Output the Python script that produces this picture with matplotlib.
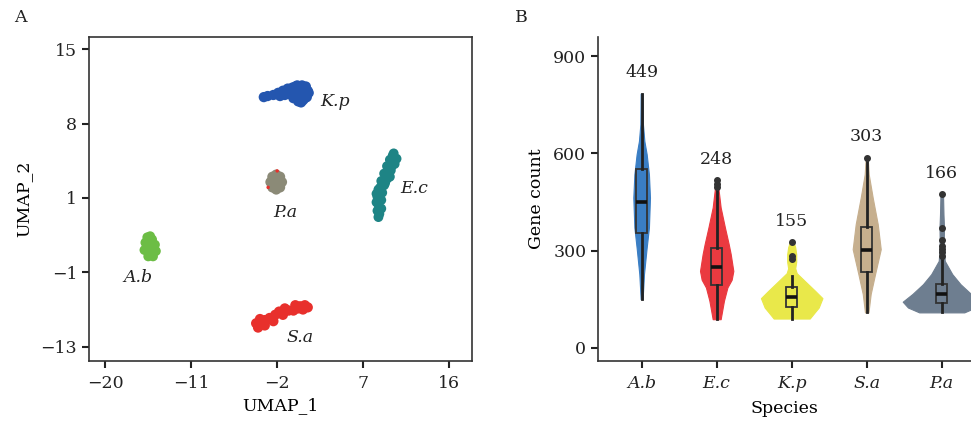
import numpy as np
import matplotlib
matplotlib.use("Agg")
import matplotlib.pyplot as plt

plt.rcParams['font.family'] = ['DejaVu Serif']
plt.rcParams['font.size'] = 12.5

#--------------------------- data ---------------------------------

# UMAP clusters (UMAP_1, UMAP_2)
kp_x = [-3.4, -3.0, -2.4, -1.9, -1.4, -0.9, -1.2, -0.4, 0.1, 0.6, 1.0, 1.2, 1.1, 0.7, 0.2, -0.3, -0.7, 0.0, 0.4, -0.2,
        -1.7, 0.8, 1.3, 0.5, -0.5, 0.3, 0.9, -0.1, 0.5, -1.0, 0.9]
kp_y = [10.5, 10.6, 10.7, 10.9, 11.1, 11.3, 10.7, 11.4, 11.6, 11.6, 11.5, 11.1, 10.5, 10.2, 10.1, 10.4, 10.8, 10.9, 11.3, 11.1,
        10.6, 10.8, 10.9, 10.0, 11.0, 10.5, 11.2, 11.5, 11.0, 11.0, 10.4]
pa_x = [-2.1, -2.7, -1.5, -2.1, -2.1, -2.5, -1.7, -2.5, -1.7, -2.4, -1.8, -2.3, -1.9]
pa_y = [2.5, 2.5, 2.5, 3.2, 1.8, 3.0, 3.0, 2.0, 2.0, 2.8, 2.2, 2.3, 2.7]
pa_red_x = [-2.0, -2.95]
pa_red_y = [3.55, 2.0]
ec_x = [10.1, 10.3, 9.8, 10.0, 9.5, 9.7, 9.2, 9.5, 8.9, 9.2, 8.6, 9.0, 8.5, 8.9, 8.6, 8.9, 8.5, 8.7, 8.6, 9.6, 8.8, 10.2,
        10.5, 10.3, 9.9, 9.8, 9.3, 8.4, 8.4]
ec_y = [5.0, 4.6, 4.6, 4.0, 4.0, 3.4, 3.3, 2.8, 2.6, 2.2, 1.8, 1.5, 1.1, 0.8, 0.4, 0.0, -0.2, -0.5, -0.8, 3.0, 2.0, 5.2,
        4.7, 4.2, 3.6, 3.0, 2.4, 1.4, 0.6]
ab_x = [-15.4, -15.6, -15.1, -15.8, -14.8, -15.9, -14.7, -15.5, -15.0, -15.4, -15.5, -15.3, -15.0]
ab_y = [-3.6, -2.7, -2.9, -3.2, -3.4, -3.9, -4.0, -4.5, -4.5, -4.2, -3.0, -2.6, -3.9]
sa_x = [-4.2, -4.0, -3.3, -3.3, -2.2, -2.4, -1.2, -1.4, -0.1, -0.3, 0.9, 0.7, 1.2, -3.8, -2.8, -1.8, 0.4, -0.8, 0.2]
sa_y = [-10.8, -11.2, -10.5, -11.0, -10.0, -10.6, -9.4, -10.0, -9.1, -9.6, -9.1, -9.5, -9.3, -10.4, -10.3, -9.7, -9.2, -9.6, -9.4]

umap_xticks = [-20, -11, -2, 7, 16]
umap_ytick_pos = [15, 8, 1, -6, -13]
umap_ytick_lab = ['15', '8', '1', '\u22121', '\u221213']

# violin panel
species = ['A.b', 'E.c', 'K.p', 'S.a', 'P.a']
colors = ['#3a7ec4', '#ea3a40', '#e9e84a', '#c6af8e', '#6e7e90']
# violin outlines: gene count levels and half widths
vio_vals = [
    [150, 227, 309, 371, 463, 535, 597, 638, 690, 784],
    [88, 145, 186, 210, 237, 289, 320, 371, 433, 484, 517],
    [90, 110, 124, 153, 176, 207, 230, 245, 265, 289, 310, 325],
    [109, 166, 227, 304, 381, 463, 535, 587],
    [109, 124, 142, 166, 196, 227, 268, 300, 330, 370, 412, 474],
]
vio_hw = [
    [0.013, 0.031, 0.067, 0.097, 0.111, 0.097, 0.067, 0.036, 0.017, 0.013],
    [0.053, 0.097, 0.143, 0.2, 0.222, 0.187, 0.16, 0.11, 0.053, 0.027, 0.013],
    [0.24, 0.31, 0.36, 0.41, 0.31, 0.17, 0.067, 0.047, 0.06, 0.06, 0.047, 0.027],
    [0.023, 0.053, 0.111, 0.187, 0.147, 0.08, 0.027, 0.013],
    [0.3, 0.45, 0.52, 0.39, 0.25, 0.14, 0.04, 0.03, 0.027, 0.03, 0.023, 0.017],
]
whislo = [150, 88, 90, 109, 109]
q1 = [355, 194, 127, 234, 138]
med = [449, 248, 155, 303, 166]
q3 = [553, 309, 186, 374, 196]
whishi = [784, 489, 222, 580, 273]
fliers = [[], [495, 505, 517], [274, 284, 325], [587], [284, 294, 304, 315, 333, 369, 474]]

#--------------------------- figure ---------------------------------

fig = plt.figure(figsize=(9.71, 4.25), dpi=100)
ax1 = fig.add_axes([0.0917, 0.1506, 0.3944, 0.7616])
ax2 = fig.add_axes([0.616, 0.1506, 0.384, 0.7616])

dark = '#333333'
txt = '#222222'

# ---- panel A
ax1.scatter(kp_x, kp_y, s=55, color='#2456af', edgecolors='none')
ax1.scatter(pa_x, pa_y, s=55, color='#8b8a77', edgecolors='none')
ax1.scatter(pa_red_x, pa_red_y, s=6, color='#e8302c', edgecolors='none')
ax1.scatter(ec_x, ec_y, s=50, color='#1e8485', edgecolors='none')
ax1.scatter(ab_x, ab_y, s=50, color='#6cbd45', edgecolors='none')
ax1.scatter(sa_x, sa_y, s=55, color='#e8302c', edgecolors='none')

lab_kw = dict(style='italic', color=txt, ha='center', va='center')
ax1.text(4.1, 10.1, 'K.p', **lab_kw)
ax1.text(-1.1, -0.4, 'P.a', **lab_kw)
ax1.text(12.4, 1.9, 'E.c', **lab_kw)
ax1.text(-16.6, -6.5, 'A.b', **lab_kw)
ax1.text(0.4, -12.1, 'S.a', **lab_kw)

ax1.set_xlim(-21.7, 18.4)
ax1.set_ylim(-14.35, 16.13)
ax1.set_xticks(umap_xticks)
ax1.set_xticklabels([str(v).replace('-', '\u2212') for v in umap_xticks])
ax1.set_yticks(umap_ytick_pos)
ax1.set_yticklabels(umap_ytick_lab)
ax1.set_xlabel('UMAP_1', labelpad=4)
ax1.set_ylabel('UMAP_2', labelpad=6)
for sp in ax1.spines.values():
    sp.set_color(dark)
    sp.set_linewidth(1.2)
ax1.tick_params(length=5, width=1.5, color=txt, labelcolor=txt)
ax1.tick_params(axis='x', pad=5)

# ---- panel B
for i in range(len(species)):
    v = np.array(vio_vals[i])
    w = np.array(vio_hw[i])
    ax2.fill_betweenx(v, i - w, i + w, color=colors[i], lw=0.8, edgecolor=colors[i], zorder=1)

stats = []
for i in range(len(species)):
    stats.append(dict(whislo=whislo[i], q1=q1[i], med=med[i], q3=q3[i],
                      whishi=whishi[i], fliers=fliers[i]))
bp = ax2.bxp(stats, positions=range(len(species)), widths=0.14, patch_artist=True,
             showcaps=False,
             boxprops=dict(edgecolor=dark, linewidth=1.3),
             whiskerprops=dict(color=txt, linewidth=2.0),
             medianprops=dict(color='#111111', linewidth=2.6),
             flierprops=dict(marker='o', markersize=4, markerfacecolor=dark,
                             markeredgecolor=dark))
for patch, c in zip(bp['boxes'], colors):
    patch.set_facecolor(c)
for i in range(len(species)):
    ax2.text(i, max(vio_vals[i]) + 38, str(med[i]), ha='center', va='bottom', color=txt)

ax2.set_xlim(-0.58, 4.39)
ax2.set_ylim(-41, 958)
ax2.set_yticks([0, 300, 600, 900])
ax2.set_xticks(range(len(species)))
ax2.set_xticklabels(species, style='italic')
ax2.set_xlabel('Species', labelpad=6)
ax2.set_ylabel('Gene count', labelpad=6)
ax2.spines['top'].set_visible(False)
ax2.spines['right'].set_visible(False)
for sp in ['left', 'bottom']:
    ax2.spines[sp].set_color(dark)
    ax2.spines[sp].set_linewidth(1.2)
ax2.tick_params(length=5, width=1.5, color=txt, labelcolor=txt)
ax2.tick_params(axis='x', pad=5)

fig.text(20 / 971, 1 - 17 / 425, 'A', ha='center', va='center', color=txt)
fig.text(521 / 971, 1 - 17 / 425, 'B', ha='center', va='center', color=txt)

fig.savefig('out.png', dpi=100)
